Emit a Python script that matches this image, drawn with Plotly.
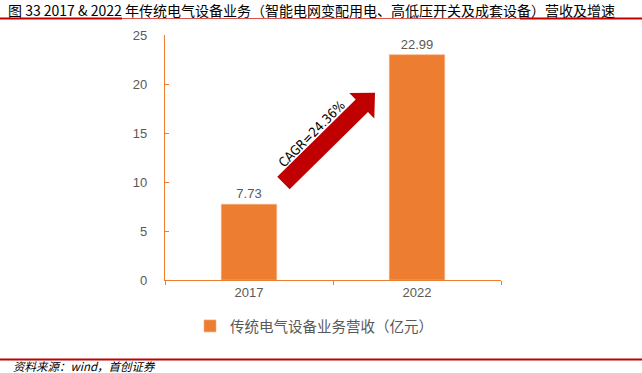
import math
import plotly.graph_objects as go

# ---- data ----
categories = ["2017", "2022"]
revenue = [7.73, 22.99]
series_name = "传统电气设备业务营收（亿元）"
cagr_label = "CAGR=24.36%"
title_text = "图 33 2017 & 2022 年传统电气设备业务（智能电网变配用电、高低压开关及成套设备）营收及增速"
source_text = "资料来源：wind，首创证券"
y_ticks = [0, 5, 10, 15, 20, 25]

# ---- layout constants ----
W, H = 642, 373
ML, MR, MT, MB = 165, 141, 35, 93
PW, PH = W - ML - MR, H - MT - MB
XR = [-0.5, 1.5]
YR = [0, 25]
ORANGE = "#ED7D31"
GRAY = "#595959"
RED = "#C00000"
CJK = "Noto Sans CJK SC"

fig = go.Figure()
fig.add_trace(go.Bar(
    x=categories, y=revenue, name=series_name,
    marker=dict(color=ORANGE, line=dict(color="#F4B183", width=0.6)),
    width=0.33,
    text=revenue, texttemplate="%{y:.2f}", textposition="outside",
    textfont=dict(color=GRAY, size=13, family="Liberation Sans"),
    cliponaxis=False,
))

# ---- arrow (decoration) built in data units ----
arrow_start = (0.205, 9.9)
arrow_end = (0.75, 19.1)
sx = PW / (XR[1] - XR[0])
sy = PH / (YR[1] - YR[0])
def to_px(p):
    return ((p[0] - XR[0]) * sx, (p[1] - YR[0]) * sy)
def to_data(p):
    return (p[0] / sx + XR[0], p[1] / sy + YR[0])
b = to_px(arrow_start); t = to_px(arrow_end)
dx, dy = t[0] - b[0], t[1] - b[1]
L = math.hypot(dx, dy); ux, uy = dx / L, dy / L
nx, ny = -uy, ux
shaft_hw, head_hw, head_len = 8.8, 17.8, 18.5
hb = (t[0] - ux * head_len, t[1] - uy * head_len)
pts_px = [
    (b[0] + nx * shaft_hw, b[1] + ny * shaft_hw),
    (hb[0] + nx * shaft_hw, hb[1] + ny * shaft_hw),
    (hb[0] + nx * head_hw, hb[1] + ny * head_hw),
    t,
    (hb[0] - nx * head_hw, hb[1] - ny * head_hw),
    (hb[0] - nx * shaft_hw, hb[1] - ny * shaft_hw),
    (b[0] - nx * shaft_hw, b[1] - ny * shaft_hw),
]
pts = [to_data(p) for p in pts_px]
path = "M " + " L ".join(f"{x:.4f},{y:.4f}" for x, y in pts) + " Z"
fig.add_shape(type="path", path=path, xref="x", yref="y",
              fillcolor=RED, line=dict(width=0), layer="above")

# label along the arrow
mid = ((pts_px[0][0] + pts_px[1][0]) / 2 + nx * 6, (pts_px[0][1] + pts_px[1][1]) / 2 + ny * 6)
lab = to_data(mid)
fig.add_annotation(x=lab[0], y=lab[1], xref="x", yref="y", text=cagr_label,
                   textangle=-45, showarrow=False,
                   font=dict(family="Liberation Sans Narrow, DejaVu Sans Condensed, Liberation Sans", size=13, color="#000000"))

# paper coordinates relative to plot area
def px_x(px):
    return (px - ML) / PW
def px_y(py):
    return (H - MB - py) / PH

# title, header/footer lines, source
fig.add_annotation(x=px_x(7), y=px_y(9.5), xref="paper", yref="paper", xanchor="left", yanchor="middle",
                   text=title_text, showarrow=False, borderpad=0,
                   font=dict(family=CJK, size=14, color="#000000"))
fig.add_shape(type="line", xref="paper", yref="paper", x0=px_x(0), x1=px_x(W), y0=px_y(18.5), y1=px_y(18.5),
              line=dict(color="#D9534F", width=1.2))
fig.add_shape(type="line", xref="paper", yref="paper", x0=px_x(0), x1=px_x(122), y0=px_y(18.5), y1=px_y(18.5),
              line=dict(color=RED, width=2))
fig.add_shape(type="line", xref="paper", yref="paper", x0=px_x(520), x1=px_x(W), y0=px_y(18.5), y1=px_y(18.5),
              line=dict(color=RED, width=2))
fig.add_shape(type="line", xref="paper", yref="paper", x0=px_x(0), x1=px_x(W), y0=px_y(359.5), y1=px_y(359.5),
              line=dict(color=RED, width=1.8))
fig.add_annotation(x=px_x(12), y=px_y(366), xref="paper", yref="paper", xanchor="left", yanchor="middle",
                   text="<i>" + source_text + "</i>", showarrow=False, borderpad=0,
                   font=dict(family=CJK, size=11.5, color="#000000"))

fig.update_layout(
    width=W, height=H,
    margin=dict(l=ML, r=MR, t=MT, b=MB, pad=0),
    paper_bgcolor="white", plot_bgcolor="white",
    showlegend=True,
    legend=dict(orientation="h", x=px_x(190), y=px_y(326), xanchor="left", yanchor="middle",
                font=dict(family=CJK, size=14.5, color=GRAY), bgcolor="rgba(0,0,0,0)",
                itemwidth=30),
    xaxis=dict(type="category", range=XR, showline=True, linecolor=ORANGE, linewidth=1.2,
               ticks="outside", tickson="boundaries", ticklen=4, tickcolor=ORANGE,
               tickfont=dict(family="Liberation Sans", size=13, color=GRAY), showgrid=False, fixedrange=True),
    yaxis=dict(range=YR, tickvals=y_ticks, showline=True, linecolor=ORANGE, linewidth=1.2,
               ticks="inside", ticklen=4, tickcolor=ORANGE, showgrid=False, zeroline=False,
               tickfont=dict(family="Liberation Sans", size=13, color=GRAY), ticklabelstandoff=14),
)

fig.write_html("out.html", config={"displayModeBar": False},
               post_script="document.body.style.margin='0px';")
